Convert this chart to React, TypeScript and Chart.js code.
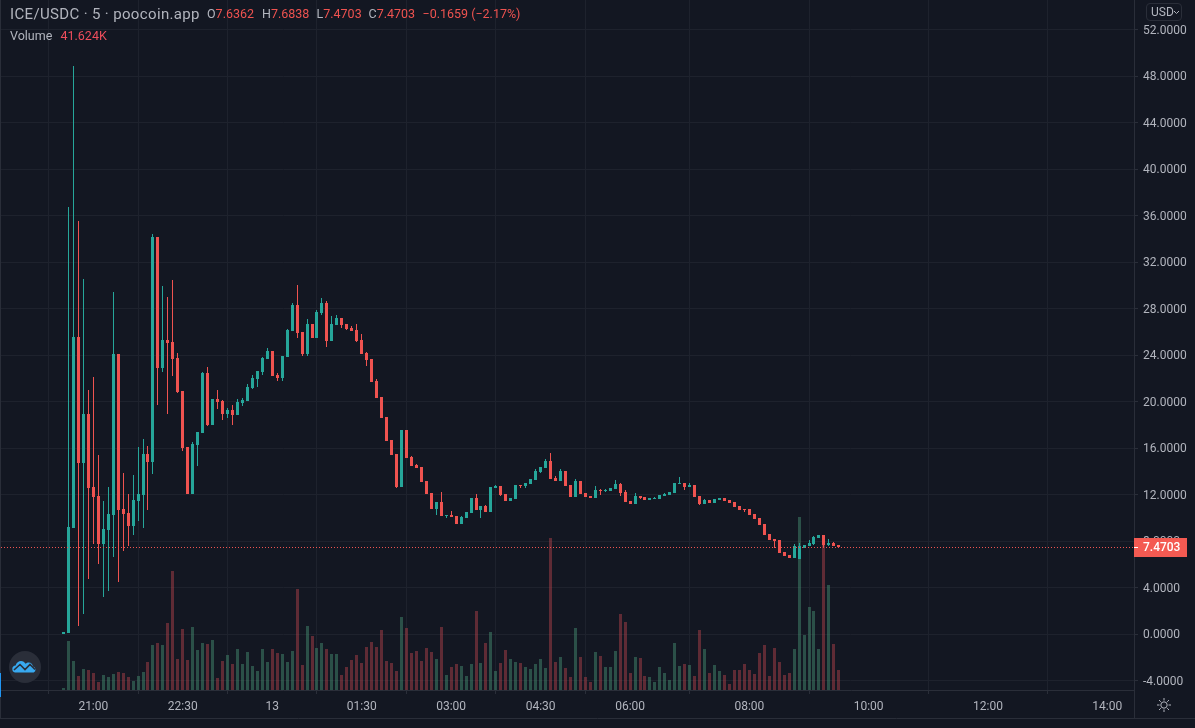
import React, { useEffect, useRef } from "react";
import { Chart, registerables } from "chart.js";

Chart.register(...registerables);

const opens = [0.02,0.09,9.16,25.57,14.75,18.94,12.66,11.88,7.75,8.96,10.25,24.1,10.77,10.42,9.3,11.45,11.97,15.5,14.81,34.17,22.9,25.31,25.14,23.76,20.92,16.1,12.06,16.27,17.31,22.47,17.99,20.23,20.06,18.94,19.28,18.85,19.88,20.06,21.17,21.95,22.55,23.67,24.36,22.29,22.03,23.84,26.08,28.32,25.99,24.1,26.68,25.48,27.63,28.49,25.22,26.6,27.2,26.68,26.34,26.17,25.3,24.19,23.67,21.78,20.4,18.68,16.7,15.49,12.65,17.56,15.24,14.55,14.37,13.17,12.14,10.76,11.36,10.16,10.24,10.16,9.47,9.98,10.42,11.71,10.68,11.02,10.5,12.57,12.74,12.05,11.45,11.62,12.83,12.74,12.91,13.26,13.95,14.29,14.89,13.43,13.17,14.03,12.83,11.79,13.17,12.14,11.88,11.71,12.4,12.31,12.31,12.48,12.91,12.22,11.45,11.19,11.88,11.79,11.54,11.62,11.62,11.88,11.97,12.14,12.91,13,12.65,12.83,11.88,11.19,11.54,11.28,11.54,11.71,11.54,11.37,11.02,10.76,10.76,10.33,9.99,9.47,8.61,8.18,8.1,7.06,6.8,6.55,6.46,7.41,7.58,7.75,8.27,8.53,7.67,7.84,7.6362];
const highs = [0.2,36.78,48.89,35.55,30.56,21.01,22.13,15.41,11.45,12.66,29.44,24.1,13.86,12.06,13.69,16.1,16.79,16.19,34.43,34.17,29.96,29.01,30.47,24.19,20.92,16.1,16.5,17.39,22.56,22.99,20.23,21.01,20.15,19.46,19.71,20.23,20.31,21.52,22.29,22.64,23.84,24.62,24.36,22.46,23.93,26.25,28.49,30.04,25.99,27.11,26.68,27.89,28.92,28.66,27.37,27.46,27.2,26.68,26.51,26.68,25.82,24.27,23.67,21.95,20.4,18.68,16.7,15.49,17.56,17.56,15.32,14.63,14.37,13.17,12.14,11.36,12.22,10.24,10.59,10.16,10.16,10.5,11.71,12.05,11.02,11.11,12.65,12.83,12.74,12.05,11.71,12.83,12.83,13,13.34,14.2,14.38,15.06,15.58,13.6,14.2,14.03,12.83,13.34,13.17,12.14,11.88,12.74,12.48,12.48,12.57,13.26,13,12.4,11.45,12.14,11.88,11.79,11.71,11.79,11.97,12.14,12.22,13,13.52,13,13,12.83,11.88,11.62,11.54,11.62,11.71,11.71,11.54,11.37,11.02,10.76,10.76,10.33,9.99,9.47,8.61,8.18,8.1,7.06,6.8,7.75,7.84,7.67,8.1,8.44,8.53,8.53,8.18,7.92,7.6838];
const lows = [0.02,0.09,9.16,0.72,1.73,4.74,7.75,6.03,3.19,3.71,6.63,4.48,7.15,7.58,8.53,9.73,9.13,10.68,13.78,19.72,22.56,18.94,22.21,20.75,15.76,12.06,12.06,14.47,17.31,17.9,17.99,19.37,18.42,18.6,17.99,18.85,19.62,20.06,21.09,21.26,22.29,23.67,22.21,21.78,21.78,23.84,26.08,25.48,23.93,23.93,25.48,25.48,27.46,24.7,25.22,26.6,26.34,26.17,26.08,25.13,24.1,23.07,21.69,20.31,18.59,16.61,15.41,12.57,12.65,15.15,14.46,14.29,13.08,12.05,10.76,10.24,10.16,9.98,10.07,9.47,9.47,9.98,10.42,10.68,9.99,10.5,10.5,12.57,11.88,11.45,11.45,11.62,12.57,12.57,12.91,13.26,13.86,14.29,13.34,13.17,13.17,12.74,11.79,11.79,12.05,11.79,11.71,11.71,11.97,12.22,12.31,12.48,11.88,11.36,11.19,11.19,11.62,11.54,11.54,11.62,11.62,11.88,11.97,12.14,12.91,12.4,12.65,11.79,11.11,11.19,11.28,11.28,11.54,11.45,11.28,10.94,10.68,10.5,10.25,9.9,9.39,8.53,8.1,7.41,6.98,6.72,6.55,6.55,6.46,7.41,7.58,7.67,8.27,7.41,7.58,7.58,7.4703];
const closes = [0.2,9.22,25.57,14.75,18.94,12.57,11.8,7.75,9.04,10.34,24.1,10.68,10.34,9.3,11.54,12.06,15.5,14.81,34.17,22.9,25.31,25.05,23.67,20.83,16.02,12.06,16.36,17.39,22.47,17.99,20.23,19.97,18.94,19.28,18.85,19.97,20.14,21.26,22.03,22.64,23.76,24.36,22.21,22.03,23.93,26.17,28.32,25.91,24.1,26.68,25.48,27.71,28.49,25.22,26.68,27.2,26.6,26.25,26.08,25.22,24.1,23.58,21.69,20.31,18.59,16.61,15.41,12.65,17.56,15.15,14.46,14.29,13.08,12.05,10.76,11.36,10.16,10.24,10.07,9.47,10.07,10.5,11.71,10.68,11.02,10.5,12.65,12.74,11.97,11.45,11.71,12.83,12.74,13,13.34,14.03,14.38,14.89,13.34,13.17,14.03,12.74,11.79,13.17,12.05,11.79,11.71,12.4,12.31,12.4,12.57,12.91,12.14,11.36,11.19,11.88,11.71,11.54,11.71,11.71,11.97,12.05,12.22,13,13,12.65,12.83,11.79,11.19,11.54,11.28,11.62,11.71,11.45,11.28,10.94,10.68,10.68,10.25,9.9,9.39,8.53,8.1,8.01,6.98,6.72,6.55,7.58,7.58,7.67,7.84,8.35,8.53,7.67,7.84,7.58,7.4703];
const volumesK = [4.2,102,60.4,29.1,43.7,41.6,35.4,16.6,31.2,27.1,33.3,37.5,35.4,27.1,18.7,29.1,37.5,58.3,93.7,97.8,93.7,139.4,247.7,64.5,127,62.4,131,83.2,97.8,95.7,104,25,60.4,72.8,54.1,85.3,54.1,79.1,49.9,39.5,85.3,58.3,85.3,77,74.9,58.3,81.2,210.2,52,133.2,112.4,87.4,97.8,85.3,74.9,74.9,31.2,47.9,62.4,72.8,56.2,89.5,99.9,89.5,124.9,60.4,56.2,39.5,151.9,129,77,81.2,60.4,87.4,79.1,64.5,131,31.2,47.9,54.1,49.9,29.1,54.1,164.4,56.2,97.8,120.7,39.5,56.2,83.2,64.5,58.3,56.2,47.9,43.7,54.1,64.5,45.8,316.3,58.3,68.7,45.8,27.1,129,68.7,27.1,16.6,79.1,70.8,47.9,47.9,81.2,158.2,141.5,35.4,68.7,66.6,29.1,27.1,16.6,47.9,35.4,20.8,97.8,49.9,54.1,52,29.1,124.9,85.3,35.4,52,39.5,31.2,12.5,41.6,41.6,54.1,41.6,33.3,77,93.7,29.1,87.4,58.3,31.2,35.4,85.3,360,114.5,172.7,164.4,85.3,308.7,218.5,95.7,41.624];

const timeTickIndex = [6, 24, 42, 60, 78, 96, 114, 138, 162, 186, 210];
const timeTickLabels = ["21:00", "22:30", "13", "01:30", "03:00", "04:30", "06:00", "08:00", "10:00", "12:00", "14:00"];
const lastClose = 7.4703;

const BG = "#131722";
const GRID = "#1e222d";
const LINE = "#2a2e39";
const TEXT = "#b2b5be";
const UP = "#26a69a";
const DOWN = "#ef5350";
const VOL_UP = "rgba(67,137,110,0.5)";
const VOL_DOWN = "rgba(171,63,72,0.5)";
const FONT = "Roboto, sans-serif";

const isUp = (i: number) => closes[i] >= opens[i];
const candleColors = opens.map((_, i) => (isUp(i) ? UP : DOWN));
const volumeColors = opens.map((_, i) => (isUp(i) ? VOL_UP : VOL_DOWN));

const snapPlugin = {
  id: "snap",
  beforeDatasetsDraw(chart: any) {
    chart.getSortedVisibleDatasetMetas().forEach((meta: any) => {
      meta.data.forEach((el: any) => {
        el.x = Math.floor(el.x) + 0.5;
        const top = Math.round(Math.min(el.y, el.base));
        let bottom = Math.round(Math.max(el.y, el.base));
        if (bottom <= top) bottom = top + 1;
        el.y = top;
        el.base = bottom;
      });
    });
  },
};

const pricePlugin = {
  id: "price",
  afterDatasetsDraw(chart: any) {
    const { ctx, chartArea } = chart;
    const y = Math.floor(chart.scales.y.getPixelForValue(lastClose)) + 0.5;
    ctx.save();
    ctx.strokeStyle = DOWN;
    ctx.lineWidth = 1;
    ctx.setLineDash([1, 2]);
    ctx.beginPath();
    ctx.moveTo(chartArea.left + 1, y);
    ctx.lineTo(chartArea.right, y);
    ctx.stroke();
    ctx.restore();
  },
  afterDraw(chart: any) {
    const { ctx, chartArea } = chart;
    const y = Math.floor(chart.scales.y.getPixelForValue(lastClose)) + 0.5;
    ctx.save();
    ctx.strokeStyle = LINE;
    ctx.lineWidth = 1;
    ctx.beginPath();
    ctx.moveTo(0.5, 0);
    ctx.lineTo(0.5, 718);
    ctx.moveTo(chartArea.right + 0.5, 0);
    ctx.lineTo(chartArea.right + 0.5, 718);
    ctx.moveTo(0, 718.5);
    ctx.lineTo(1195, 718.5);
    ctx.stroke();
    ctx.fillStyle = "#f45a52";
    ctx.fillRect(chartArea.right, y - 9.5, 53, 19);
    ctx.fillStyle = "#ffffff";
    ctx.fillRect(chartArea.right, y - 0.5, 4, 1);
    ctx.font = `500 12px ${FONT}`;
    ctx.textBaseline = "middle";
    ctx.textAlign = "left";
    ctx.fillText(lastClose.toFixed(4), chartArea.right + 9, y + 0.5);
    ctx.restore();
  },
};

const hdr: React.CSSProperties = {
  position: "absolute",
  whiteSpace: "nowrap",
  fontFamily: FONT,
  lineHeight: "16px",
};

const ohlc: [string, string, number][] = [
  ["O", "7.6362", 207],
  ["H", "7.6838", 262],
  ["L", "7.4703", 316.5],
  ["C", "7.4703", 368.5],
];

export default function App() {
  const ref = useRef<HTMLCanvasElement>(null);
  useEffect(() => {
    document.body.style.margin = "0";
    document.body.style.background = BG;
    const xs = opens.map((_, i) => i);
    const chart = new Chart(ref.current as HTMLCanvasElement, {
      type: "bar",
      data: {
        datasets: [
          {
            label: "Body",
            data: xs.map((i) => ({ x: i, y: [opens[i], closes[i]] })),
            backgroundColor: candleColors,
            barThickness: 3,
            inflateAmount: 0,
            grouped: false,
            order: 1,
            yAxisID: "y",
          },
          {
            label: "Wick",
            data: xs.map((i) => ({ x: i, y: [lows[i], highs[i]] })),
            backgroundColor: candleColors,
            barThickness: 1,
            inflateAmount: 0,
            grouped: false,
            order: 2,
            yAxisID: "y",
          },
          {
            label: "Volume",
            data: xs.map((i) => ({ x: i, y: volumesK[i] })),
            backgroundColor: volumeColors,
            barThickness: 3,
            inflateAmount: 0,
            grouped: false,
            order: 3,
            yAxisID: "yVol",
          },
        ] as any,
      },
      options: {
        responsive: false,
        animation: false,
        layout: { padding: 0 },
        plugins: { legend: { display: false }, tooltip: { enabled: false } },
        scales: {
          x: {
            type: "linear",
            offset: false,
            min: -12.777,
            max: 215.39,
            afterFit(s: any) {
              s.height = 38;
              s.paddingLeft = 0;
              s.paddingRight = 0;
            },
            afterBuildTicks(s: any) {
              s.ticks = timeTickIndex.map((value) => ({ value }));
            },
            grid: { color: GRID, tickColor: LINE, tickLength: 4 },
            border: { color: LINE },
            ticks: {
              color: TEXT,
              font: { family: FONT, size: 12 },
              maxRotation: 0,
              autoSkip: false,
              padding: 6,
              callback: (v: any) => timeTickLabels[timeTickIndex.indexOf(Number(v))] ?? "",
            },
          },
          y: {
            type: "linear",
            position: "right",
            min: -4.81,
            max: 54.57,
            afterFit(s: any) {
              s.width = 61;
              s.paddingTop = 0;
              s.paddingBottom = 0;
            },
            grid: { color: GRID, tickColor: LINE, tickLength: 4 },
            border: { color: LINE },
            ticks: {
              color: TEXT,
              font: { family: FONT, size: 12 },
              stepSize: 4,
              includeBounds: false,
              padding: 5,
              labelOffset: 1,
              callback: (v: any) => Number(v).toFixed(4),
            },
          },
          yVol: {
            type: "linear",
            display: false,
            min: 0,
            max: 1435,
          },
        },
      } as any,
      plugins: [snapPlugin, pricePlugin],
    });
    return () => chart.destroy();
  }, []);

  return (
    <div style={{ position: "fixed", left: 0, top: 0, width: 1195, height: 728, background: BG, overflow: "hidden" }}>
      <canvas ref={ref} width={1195} height={728} style={{ display: "block", width: 1195, height: 728 }} />
      <span style={{ ...hdr, left: 10, top: 6, fontSize: 15, letterSpacing: 0.35, color: TEXT }}>ICE/USDC · 5 · poocoin.app</span>
      {ohlc.map(([k, v, x]) => (
        <span key={k} style={{ ...hdr, left: x, top: 6, fontSize: 12.5, color: TEXT }}>
          {k}
          <span style={{ color: DOWN }}>{v}</span>
        </span>
      ))}
      <span style={{ ...hdr, left: 422.5, top: 6, fontSize: 12.5, color: DOWN }}>−0.1659 (−2.17%)</span>
      <span style={{ ...hdr, left: 10, top: 28, fontSize: 12.5, color: TEXT }}>Volume</span>
      <span style={{ ...hdr, left: 60.5, top: 28, fontSize: 12.5, color: "#ef4d5c" }}>41.624K</span>
      <div
        style={{
          ...hdr,
          left: 1146,
          top: 3,
          width: 36,
          height: 18,
          boxSizing: "border-box",
          border: `1px solid ${LINE}`,
          borderRadius: 4,
          fontSize: 12,
          color: TEXT,
          paddingLeft: 4,
        }}
      >
        USD
        <svg width="7" height="5" viewBox="0 0 7 5" style={{ position: "absolute", left: 26, top: 6 }}>
          <path d="M1 1l2.5 2.5L6 1" fill="none" stroke={TEXT} strokeWidth="1" />
        </svg>
      </div>
      <div style={{ position: "absolute", left: 0, top: 673, width: 1, height: 24, background: "#2196f3" }} />
      <svg width="32" height="32" viewBox="0 0 32 32" style={{ position: "absolute", left: 8.5, top: 651 }}>
        <circle cx="16" cy="16" r="16" fill="#2a2e39" />
        <path
          d="M6 21.5a3.5 3.5 0 0 1 .6-6.9c.9-3 3-4.6 5.4-4.6 2.2 0 3.5 1.3 4.6 2.7 1-.9 2-1.2 3-1.2 2.6 0 4 1.8 4.4 4a3.2 3.2 0 0 1 .7 6H6z"
          fill="#38a9f0"
        />
        <path d="M5 19l6-5.5 5 5 5-5 5 5" fill="none" stroke="#2a2e39" strokeWidth="1.6" />
      </svg>
      <svg width="16" height="16" viewBox="0 0 16 16" style={{ position: "absolute", left: 1156, top: 697 }}>
        <circle cx="8" cy="8" r="3.2" fill="none" stroke={TEXT} strokeWidth="1" />
        <path
          d="M8 1v2.5M8 12.500V15M1 8h2.500M12.500 8H15M3 3l1.800 1.800M11.200 11.200L13 13M13 3l-1.800 1.800M4.800 11.200L3 13"
          stroke={TEXT}
          strokeWidth="1"
        />
      </svg>
    </div>
  );
}
